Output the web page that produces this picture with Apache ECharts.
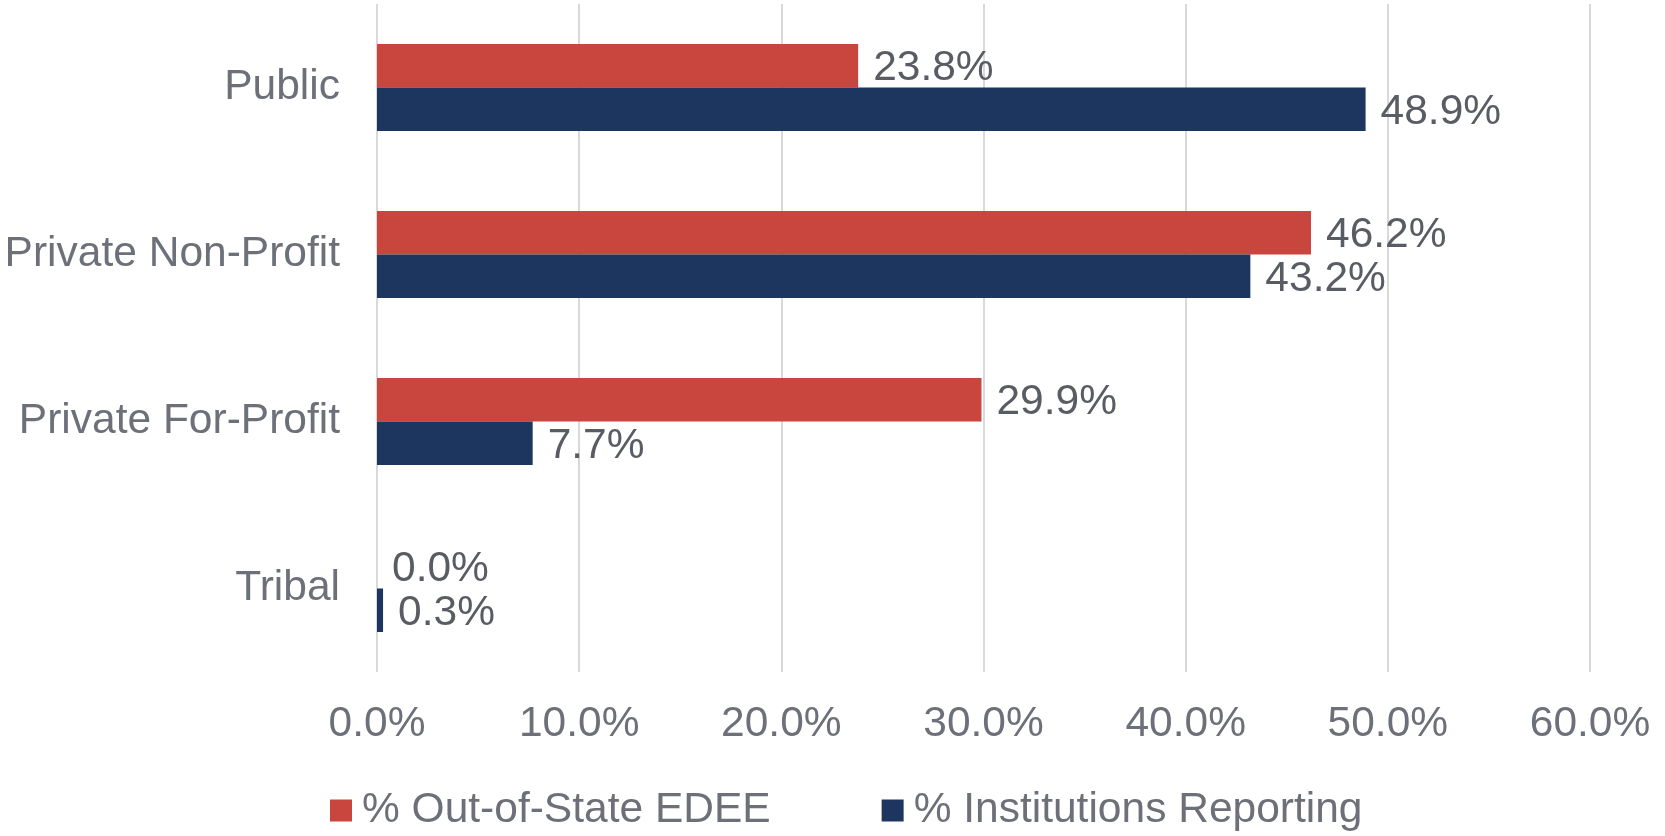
<!DOCTYPE html>
<html>
<head>
<meta charset="utf-8">
<script src="https://cdn.jsdelivr.net/npm/echarts@6/dist/echarts.min.js"></script>
<style>
  html, body { margin: 0; padding: 0; background: #fff; }
  #myChart { width: 1665px; height: 836px; }
</style>
</head>
<body>
<div id="myChart"></div>
<script>
var categories = ['Public', 'Private Non-Profit', 'Private For-Profit', 'Tribal'];
var outOfState = [23.8, 46.2, 29.9, 0.0];
var institutions = [48.9, 43.2, 7.7, 0.3];
var seriesNames = ['% Out-of-State EDEE', '% Institutions Reporting'];

var font = '"Liberation Sans", Arial, sans-serif';

var myChart = echarts.init(document.getElementById('myChart'));

var valueLabel = {
  show: true,
  position: 'right',
  distance: 15,
  offset: [0, 3],
  fontFamily: font,
  fontSize: 42.5,
  color: '#595c63',
  formatter: function (p) {
    return p.value.toFixed(1) + '%';
  }
};

myChart.setOption({
  animation: false,
  textStyle: { fontFamily: font },
  grid: { left: 377, right: 75, top: 4, bottom: 164, containLabel: false },
  legend: {
    left: 325,
    top: 784,
    icon: 'rect',
    itemWidth: 22,
    itemHeight: 22,
    itemGap: 111,
    textStyle: { fontFamily: font, fontSize: 42.5, color: '#6d7079', padding: [0, 0, 0, 5] },
    data: seriesNames
  },
  xAxis: {
    type: 'value',
    min: 0,
    max: 60,
    interval: 10,
    axisLine: { show: false },
    axisTick: { show: false },
    splitLine: { show: true, lineStyle: { color: '#d9d9d9', width: 2 } },
    axisLabel: {
      margin: 31,
      fontFamily: font,
      fontSize: 42.5,
      color: '#6d7079',
      formatter: function (v) { return v.toFixed(1) + '%'; }
    }
  },
  yAxis: {
    type: 'category',
    inverse: true,
    data: categories,
    axisLine: { show: false },
    axisTick: { show: false },
    axisLabel: { margin: 37, fontFamily: font, fontSize: 42.5, color: '#6d7079', padding: [2, 0, 0, 0] }
  },
  series: [
    {
      name: seriesNames[0],
      type: 'bar',
      data: outOfState,
      barWidth: 43.5,
      barGap: '0%',
      itemStyle: { color: '#c9463f' },
      label: valueLabel
    },
    {
      name: seriesNames[1],
      type: 'bar',
      data: institutions,
      barWidth: 43.5,
      barGap: '0%',
      itemStyle: { color: '#1d3660' },
      label: valueLabel
    }
  ]
});
</script>
</body>
</html>
